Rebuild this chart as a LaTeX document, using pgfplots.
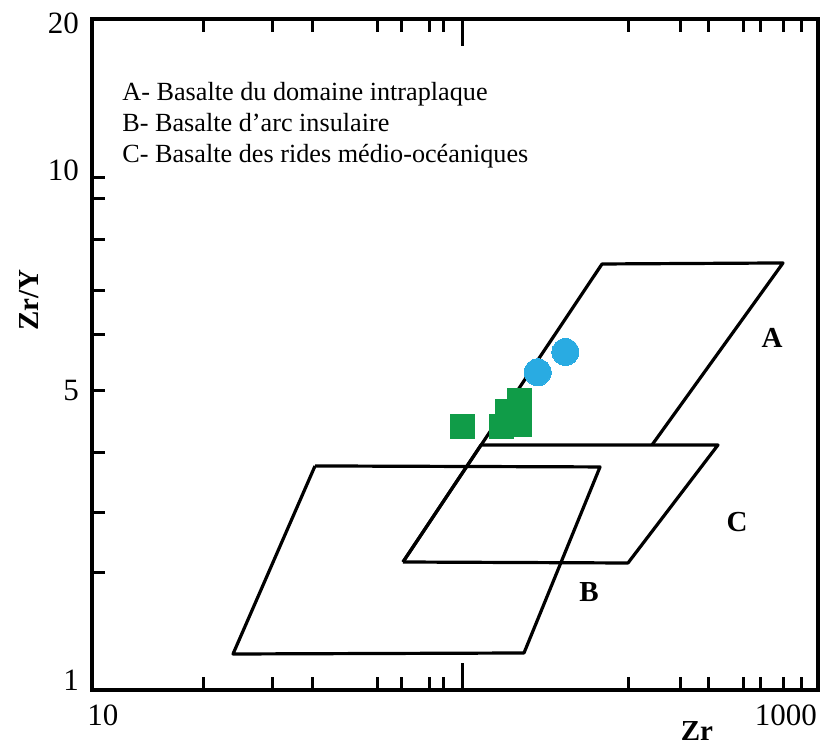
\documentclass[border=0pt]{standalone}
\usepackage{fontspec}
\setmainfont{Liberation Serif}
\usepackage{pgfplots}
\pgfplotsset{compat=1.18}
\definecolor{ptgreen}{RGB}{16,156,72}
\definecolor{ptblue}{RGB}{41,171,226}
\begin{document}
\begin{tikzpicture}
\begin{axis}[
  name=main,
  scale only axis,
  width=363pt, height=335.5pt,
  xmode=log, ymode=log,
  xmin=10, xmax=1000, ymin=1, ymax=20,
  axis line style={line width=1.6pt},
  every tick/.style={black, line width=1.5pt},
  tick align=inside,
  /pgf/number format/assume math mode=true,
  ticklabel style={font=\fontsize{15.5}{17}\selectfont},
  xtick={10.72,816}, xticklabels={10,1000},
  ytick={1.046,3.80,10.19,19.65}, yticklabels={1,5,10,20},
  major tick length=0pt,
  minor tick length=6.3pt,
  minor xtick={20.26,31.46,40.55,61.24,71.33,84.96,92.86,300.1,416.8,498.6,622.6,696.6,802.6,897.8},
  minor ytick={1.686,2.204,2.882,3.800,4.879,5.939,7.458,8.956,9.836},
  extra x ticks={105}, extra x tick labels={},
  extra tick style={major tick length=13.5pt},
  xtick pos=both, ytick pos=left,
  xticklabel style={yshift=-4pt},
  yticklabel style={xshift=-3pt},
  clip=false,
]
% Field A (intraplate)
\addplot[black, line width=1.6pt, line join=round, mark=none] coordinates {
  (71.9,1.771) (254.1,6.699) (801.0,6.730) (348.9,2.986)
};
% Field C (MORB)
\addplot[black, line width=1.6pt, line join=round, mark=none] coordinates {
  (71.9,1.771) (117.9,2.986) (530.2,2.986) (299.6,1.763) (71.9,1.771)
};
% Field B (island arc)
\addplot[black, line width=1.6pt, line join=round, mark=none] coordinates {
  (41.15,2.719) (250.9,2.707) (154.9,1.1797) (24.46,1.1744) (41.15,2.719)
};
% Samples
\addplot[only marks, mark=square*, mark size=6pt, color=ptgreen, mark options={draw=ptgreen, fill=ptgreen, line width=0pt}] coordinates {
  (105.2,3.250) (134.7,3.250) (139.1,3.460) (150.1,3.650) (150.1,3.265)
};
\addplot[only marks, mark=*, mark size=6.75pt, color=ptblue, mark options={draw=ptblue, fill=ptblue, line width=0pt}] coordinates {
  (169.0,4.131) (201.4,4.523)
};
% Legend text
\node[anchor=base west, font=\fontsize{13.1}{15}\selectfont, inner sep=0pt] at (rel axis cs:0.0413,0.8778) {A- Basalte du domaine intraplaque};
\node[anchor=base west, font=\fontsize{13.1}{15}\selectfont, inner sep=0pt] at (rel axis cs:0.0413,0.8316) {B- Basalte d’arc insulaire};
\node[anchor=base west, font=\fontsize{13.1}{15}\selectfont, inner sep=0pt] at (rel axis cs:0.0413,0.7854) {C- Basalte des rides médio-océaniques};
% Field labels
\node[font=\fontsize{14.5}{16}\selectfont\bfseries] at (rel axis cs:0.9366,0.5246) {A};
\node[font=\fontsize{14.5}{16}\selectfont\bfseries] at (rel axis cs:0.6846,0.1461) {B};
\node[font=\fontsize{14.5}{16}\selectfont\bfseries] at (rel axis cs:0.8884,0.2504) {C};
% Axis labels
\node[font=\fontsize{14.5}{16}\selectfont\bfseries] at (rel axis cs:0.8333,-0.0611) {Zr};
\node[font=\fontsize{14.5}{16}\selectfont\bfseries, rotate=90] at (rel axis cs:-0.0868,0.5812) {Zr/Y};
\end{axis}
\begin{axis}[
  at={(main.south west)}, anchor=south west,
  scale only axis,
  width=363pt, height=335.5pt,
  xmode=log, ymode=log,
  xmin=10, xmax=1000, ymin=1, ymax=20,
  axis x line=none,
  axis y line*=right,
  axis line style={line width=1.6pt},
  every tick/.style={black, line width=1.5pt},
  tick align=inside,
  ytick=\empty, yticklabels={},
  minor tick length=7.5pt,
  minor ytick={1.763,2.295,2.895,3.784,4.922,7.939,9.240,9.792},
]
\end{axis}
\pgfresetboundingbox
\path[use as bounding box] ([shift={(-46pt,-28pt)}]main.south west) rectangle ([shift={(364.5pt,345pt)}]main.south west);
\end{tikzpicture}
\end{document}
